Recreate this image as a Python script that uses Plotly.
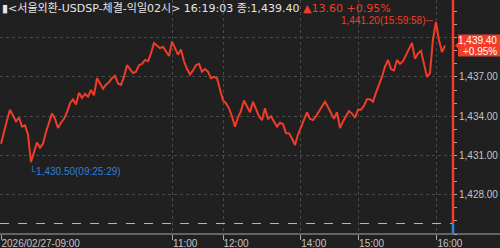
import plotly.graph_objects as go

# ---- data ----
prices = [
    1431.9, 1432.9, 1433.7, 1434.5, 1434.1, 1433.6, 1433.9, 1433.2, 1433.3, 1432.6,
    1430.5, 1431.3, 1432.0, 1431.6, 1431.9, 1432.8, 1433.6, 1434.2, 1433.8, 1433.1,
    1433.5, 1433.8, 1434.3, 1435.0, 1435.3, 1434.9, 1435.8, 1435.4, 1435.7, 1435.5,
    1436.0, 1435.6, 1436.9, 1436.5, 1436.1, 1436.4, 1436.6, 1436.9, 1437.1, 1436.5,
    1436.4, 1437.0, 1437.9, 1437.6, 1437.3, 1437.4, 1437.9, 1438.0, 1438.3, 1438.2,
    1438.8, 1439.6, 1439.4, 1439.2, 1439.3, 1438.9, 1438.6, 1439.7, 1439.2, 1438.7,
    1439.1, 1438.2, 1437.6, 1437.2, 1437.5, 1437.9, 1438.0, 1437.4, 1437.6, 1437.4,
    1436.9, 1437.0, 1436.9, 1436.0, 1435.2, 1435.0, 1434.6, 1434.0, 1433.2, 1433.9,
    1434.4, 1435.2, 1434.8, 1434.3, 1435.1, 1434.5, 1434.0, 1433.7, 1434.6, 1433.8,
    1434.0, 1433.6, 1433.2, 1433.5, 1433.4, 1432.7, 1432.7, 1432.3, 1431.8, 1432.6,
    1433.2, 1433.7, 1434.3, 1433.8, 1433.7, 1434.0, 1434.4, 1434.7, 1435.1, 1434.7,
    1434.2, 1433.8, 1434.3, 1433.1, 1433.6, 1434.0, 1434.4, 1434.2, 1433.9, 1434.5,
    1434.5, 1434.8, 1435.3, 1435.3, 1435.1, 1435.8, 1436.4, 1437.0, 1437.8, 1438.3,
    1437.6, 1437.5, 1438.3, 1438.0, 1438.2, 1438.7, 1439.2, 1439.6, 1438.4, 1438.8,
    1439.0, 1438.0, 1437.0, 1437.3, 1439.9, 1441.2, 1439.8, 1438.9, 1439.4,
]
time_tick_pos = [0, 57.2, 74, 99.9, 119.2, 145.3]
time_tick_labels = ["2026/02/27-09:00", "11:00", "12:00", "14:00", "15:00", "16:00"]
price_ticks = [1428, 1431, 1434, 1437, 1440]
price_tick_labels = ["1,428.00", "1,431.00", "1,434.00", "1,437.00", ""]
prev_close = 1425.80
last_price = 1439.40
change = 13.60
change_pct = 0.95
hi_time = "15:59:58"
lo_time = "09:25:29"
title_name = "<서울외환-USDSP-체결-익일02시>"
title_time = "16:19:03"

# ---- style ----
BG = "#202020"
RED = "#f03c28"
BLUE = "#2e80dc"
TXT = "#c4c4c4"
GRID = "#4a4a4a"
NUMFONT = "Liberation Sans, Arial, sans-serif"
Y_MIN, Y_MAX = 1425.0, 1442.88

x = list(range(len(prices)))
hi = max(prices)
hi_i = prices.index(hi)
lo = min(prices)
lo_i = prices.index(lo)

fig = go.Figure()
fig.add_trace(go.Scatter(x=x, y=prices, mode="lines",
                         line=dict(color=RED, width=2), hoverinfo="skip"))

fig.update_layout(
    width=500, height=248,
    margin=dict(l=0, r=47, t=0, b=14),
    paper_bgcolor=BG, plot_bgcolor=BG,
    showlegend=False,
    xaxis=dict(
        range=[-1 / 3, 150.67],
        tickmode="array", tickvals=time_tick_pos, ticktext=time_tick_labels,
        ticklabelposition="outside right",
        ticks="outside", ticklen=5, tickcolor="#a8a8a8",
        tickfont=dict(family=NUMFONT, size=10, color=TXT),
        showgrid=True, gridcolor=GRID, griddash="dot", gridwidth=1,
        showline=False, zeroline=False,
    ),
    yaxis=dict(
        range=[Y_MIN, Y_MAX], side="right",
        tickmode="array", tickvals=price_ticks, ticktext=price_tick_labels,
        ticks="outside", ticklen=3, tickcolor="#a8a8a8",
        minor=dict(tick0=1425, dtick=1, ticks="outside", ticklen=3, tickcolor="#a8a8a8", showgrid=False),
        tickfont=dict(family=NUMFONT, size=10, color=TXT),
        showgrid=True, gridcolor=GRID, griddash="dot", gridwidth=1,
        showline=False, zeroline=False,
    ),
)

shapes = [
    # previous close dashed line
    dict(type="line", xref="paper", yref="y", x0=0, x1=1, y0=prev_close, y1=prev_close,
         line=dict(color="#b8b8b8", width=1, dash="dash")),
    # bottom axis line
    dict(type="line", xref="paper", yref="paper", x0=0, x1=1.11, y0=0, y1=0,
         line=dict(color="#a8a8a8", width=1)),
    # right price line: red above prev close, blue below
    dict(type="line", xref="paper", yref="y", x0=1, x1=1, y0=prev_close, y1=Y_MAX,
         line=dict(color=RED, width=2.5)),
    dict(type="line", xref="paper", yref="y", x0=1, x1=1, y0=Y_MIN, y1=prev_close,
         line=dict(color=BLUE, width=2.5)),
    # current price badge
    dict(type="rect", xref="paper", yref="y", xsizemode="pixel", ysizemode="pixel",
         xanchor=1, yanchor=last_price, x0=5, x1=48, y0=-11, y1=11,
         fillcolor=RED, line=dict(width=0)),
    dict(type="path", xref="paper", yref="y", xsizemode="pixel", ysizemode="pixel",
         xanchor=1, yanchor=last_price, path="M 2,0 L 6,-4 L 6,4 Z",
         fillcolor=RED, line=dict(width=0)),
]
fig.update_layout(shapes=shapes)

annotations = [
    dict(xref="paper", yref="paper", x=0, y=1, xanchor="left", yanchor="top",
         showarrow=False, yshift=1,
         text=(f"<span style='color:#e6e6e6'>▮{title_name} {title_time} 종:{last_price:,.2f} </span>"
               f"<span style='color:{RED}'>▲{change:.2f} +{change_pct:.2f}%</span>"),
         font=dict(family="DejaVu Sans, Noto Sans CJK KR, sans-serif", size=11)),
    dict(xref="x", yref="y", x=hi_i, y=hi, xanchor="right", yanchor="middle",
         showarrow=False, xshift=0, yshift=1,
         text=f"{hi:,.2f}({hi_time})─",
         font=dict(family=NUMFONT, size=10, color=RED)),
    dict(xref="x", yref="y", x=lo_i, y=lo, xanchor="left", yanchor="top",
         showarrow=False, xshift=-4, yshift=-1,
         text=f"└{lo:,.2f}({lo_time})",
         font=dict(family=NUMFONT, size=10, color=BLUE)),
    dict(xref="paper", yref="y", x=1, y=last_price, xanchor="right", yanchor="middle",
         showarrow=False, xshift=46, yshift=5.5,
         text=f"{last_price:,.2f}", font=dict(family=NUMFONT, size=10, color="#ffffff")),
    dict(xref="paper", yref="y", x=1, y=last_price, xanchor="right", yanchor="middle",
         showarrow=False, xshift=46, yshift=-5.5,
         text=f"+{change_pct:.2f}%", font=dict(family=NUMFONT, size=10, color="#ffffff")),
]
fig.update_layout(annotations=annotations)

fig.write_html("out.html")
